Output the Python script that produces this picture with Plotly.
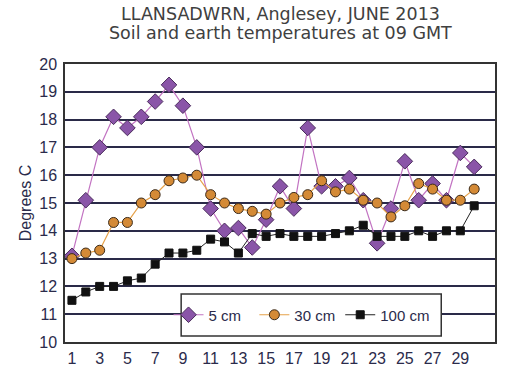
import plotly.graph_objects as go

days = list(range(1, 31))
cm5 = [13.1, 15.1, 17.0, 18.1, 17.7, 18.1, 18.65, 19.25, 18.5, 17.0,
       14.8, 14.0, 14.1, 13.4, 14.4, 15.6, 14.8, 17.7, 15.6, 15.6,
       15.9, 15.1, 13.55, 14.8, 16.5, 15.1, 15.7, 15.1, 16.8, 16.3]
cm30 = [13.0, 13.2, 13.3, 14.3, 14.3, 15.0, 15.3, 15.8, 15.9, 16.0,
        15.3, 15.0, 14.8, 14.7, 14.6, 15.0, 15.2, 15.3, 15.8, 15.4,
        15.5, 15.1, 15.0, 14.5, 14.9, 15.7, 15.5, 15.1, 15.1, 15.5]
cm100 = [11.5, 11.8, 12.0, 12.0, 12.2, 12.3, 12.8, 13.2, 13.2, 13.3,
         13.7, 13.6, 13.2, 13.9, 13.8, 13.9, 13.8, 13.8, 13.8, 13.9,
         14.0, 14.2, 13.8, 13.8, 13.8, 14.0, 13.8, 14.0, 14.0, 14.9]
x_ticks = list(range(1, 30, 2))
y_ticks = list(range(10, 21))
title_lines = ["LLANSADWRN, Anglesey, JUNE 2013", "Soil and earth temperatures at 09 GMT"]
series_names = ["5 cm", "30 cm", "100 cm"]

NB = "\u00a0"
fig = go.Figure()
fig.add_trace(go.Scatter(
    x=days, y=cm5, name=series_names[0] + NB * 2, mode="lines+markers",
    line=dict(color="#c273c2", width=1.2),
    marker=dict(symbol="diamond", size=12, color="#8a55a8",
                line=dict(color="#4a2c5c", width=1))))
fig.add_trace(go.Scatter(
    x=days, y=cm30, name=series_names[1], mode="lines+markers",
    line=dict(color="#e6a24a", width=1.2),
    marker=dict(symbol="circle", size=10, color="#d48a36",
                line=dict(color="#3a2a1a", width=1))))
fig.add_trace(go.Scatter(
    x=days, y=cm100, name=series_names[2], mode="lines+markers",
    line=dict(color="#222222", width=1),
    marker=dict(symbol="square", size=8, color="#111111",
                line=dict(color="#111111", width=1))))

PLOT_H = 378 - 64 - 36
annots = []
for i, t in enumerate(title_lines):
    annots.append(dict(
        text=t, xref="paper", yref="paper", x=0.5, xanchor="center",
        y=1 + (64 - 14 - 19 * i) / PLOT_H, yanchor="middle", showarrow=False,
        font=dict(family="DejaVu Sans, Verdana, sans-serif", size=17.5, color="#404040")))

fig.update_layout(
    width=508, height=378,
    margin=dict(l=65, r=11, t=64, b=36),
    paper_bgcolor="white", plot_bgcolor="white",
    font=dict(family="Liberation Sans, Arial, sans-serif", size=16, color="#2b2b4b"),
    annotations=annots,
    shapes=[dict(type="rect", xref="paper", yref="paper", layer="above",
                 x0=(181.7 - 65) / 432, x1=(443 - 65) / 432,
                 y0=(342 - 336) / PLOT_H, y1=(342 - 294) / PLOT_H,
                 fillcolor="white", line=dict(color="#333333", width=1.5))],
    showlegend=True,
    legend=dict(
        orientation="h", x=(169 - 65) / 432, y=(342 - 315) / PLOT_H,
        xanchor="left", yanchor="middle", xref="paper", yref="paper",
        bgcolor="rgba(0,0,0,0)", borderwidth=0,
        font=dict(family="Liberation Sans, Arial, sans-serif", size=15, color="#2b2b4b"),
        itemwidth=30),
)
fig.update_xaxes(
    range=[0.5, 31.5], tickmode="array", tickvals=x_ticks,
    ticktext=[str(v) for v in x_ticks],
    showgrid=False, zeroline=False,
    showline=True, linecolor="#333333", linewidth=1.5, mirror=True,
    ticks="outside", ticklen=1, tickcolor="white")
fig.update_yaxes(
    range=[10, 20], tickmode="array", tickvals=y_ticks,
    showgrid=True, gridcolor="#2a2a48", gridwidth=1.5, zeroline=False,
    showline=True, linecolor="#333333", linewidth=1.5, mirror=True,
    ticks="outside", ticklen=3, tickcolor="white",
    title=dict(text="Degrees C", standoff=4,
               font=dict(family="Liberation Sans, Arial, sans-serif", size=16, color="#2b2b4b")))

fig.write_html("out.html", config={"displayModeBar": False},
               post_script="document.body.style.margin='0';document.body.style.overflow='hidden';")
